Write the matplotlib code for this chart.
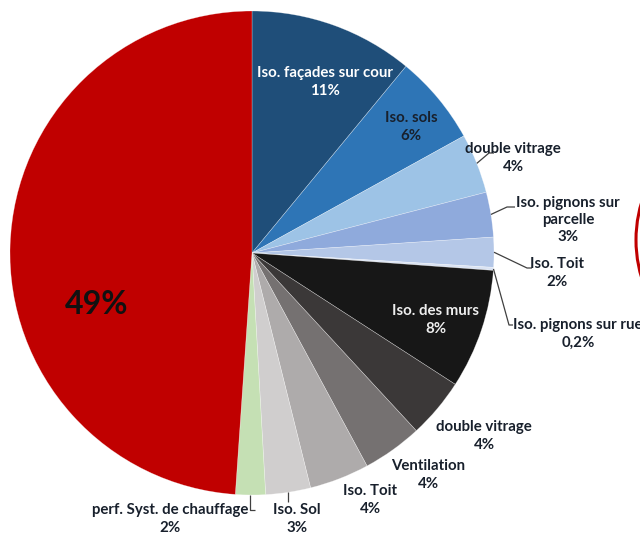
import numpy as np
import matplotlib
matplotlib.use("Agg")
import matplotlib.pyplot as plt
from matplotlib.patches import Circle

# Share of each measure (percent), clockwise from 12 o'clock
categories = [
    "Iso. façades sur cour", "Iso. sols", "double vitrage",
    "Iso. pignons sur\nparcelle", "Iso. Toit", "Iso. pignons sur rue",
    "Iso. des murs", "double vitrage", "Ventilation", "Iso. Toit",
    "Iso. Sol", "perf. Syst. de chauffage", "",
]
values = [11, 6, 4, 3, 2, 0.2, 8, 4, 4, 4, 3, 2, 49]
value_labels = ["11%", "6%", "4%", "3%", "2%", "0,2%", "8%", "4%", "4%",
                "4%", "3%", "2%", "49%"]
colors = [
    "#1F4E79", "#2E75B6", "#9DC3E6", "#8FAADC", "#B4C7E7", "#DAE3F3",
    "#171717", "#3B3838", "#757171", "#AEABAB", "#D0CECE", "#C5E0B4",
    "#C00000",
]

W, H = 640, 535
fig = plt.figure(figsize=(W / 100, H / 100), dpi=100)
ax = fig.add_axes([0, 0, 1, 1])


def Y(y):
    """Convert a top-down pixel row to data y."""
    return H - y


cx, cy, R = 252, Y(253), 242
wedges, _ = ax.pie(values, colors=colors, startangle=90, counterclock=False,
                   center=(cx, cy), radius=R,
                   wedgeprops=dict(edgecolor=(1, 1, 1, 0.45), linewidth=0.4))
ax.set_xlim(0, W)
ax.set_ylim(0, H)
ax.set_aspect("equal")
ax.axis("off")

FONT = ["Lato", "DejaVu Sans"]
TXT = "#18202c"


def edge_point(w, frac=1.0):
    a = np.deg2rad((w.theta1 + w.theta2) / 2)
    return cx + frac * R * np.cos(a), cy + frac * R * np.sin(a)


def label(i, x, y, color=TXT, ha="center", size=10.8):
    text = categories[i] + "\n" + value_labels[i]
    ax.text(x, Y(y), text, ha=ha, va="center", color=color, fontsize=size,
            fontweight="bold", family=FONT, linespacing=1.3)


def leader(i, pts):
    ex, ey = edge_point(wedges[i])
    xs = [ex] + [p[0] for p in pts]
    ys = [ey] + [Y(p[1]) for p in pts]
    ax.plot(xs, ys, color="#404040", lw=0.9, solid_capstyle="butt")


# labels inside the slices
label(0, 325, 82, color="white")
label(1, 411, 127)
label(6, 436, 320, color="#eeeeee")

# labels outside, with leader lines
label(2, 513, 158)
leader(2, [(489, 153), (494, 153)])
label(3, 568, 220)
leader(3, [(507, 207), (515, 207)])
label(4, 557, 273)
leader(4, [(527, 268), (532, 268)])
label(5, 578, 334)
leader(5, [(509, 325), (513, 325)])
label(7, 484, 436)
label(8, 428, 475)
label(9, 370, 500)
label(10, 297, 519)
leader(10, [(edge_point(wedges[10])[0], 502)])
label(11, 170, 519)
leader(11, [(edge_point(wedges[11])[0], 510), (255, 510)])

# share of the remaining heating demand
ax.text(97, Y(305), value_labels[12], ha="center", va="center", color="#111111",
        fontsize=23, fontweight="bold", family=FONT)

# edge of the neighbouring diagram
ax.add_patch(Circle((766, Y(240)), 130, fill=False, edgecolor="#C00000", lw=2.2))

fig.savefig("out.png", dpi=100)
